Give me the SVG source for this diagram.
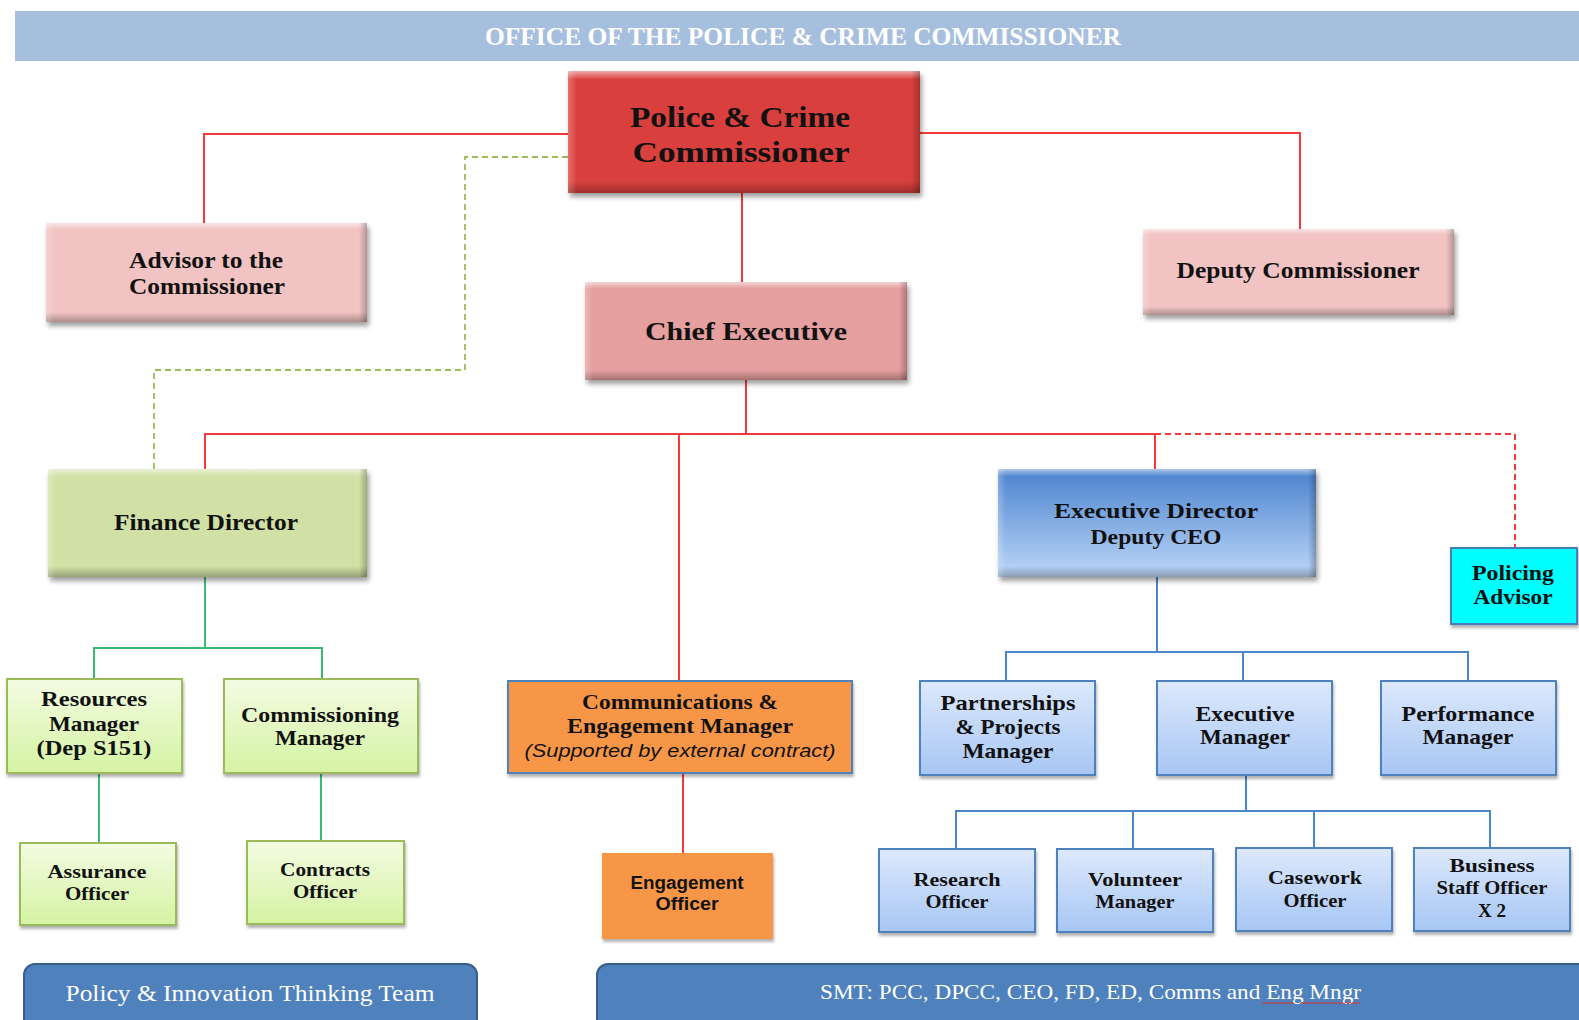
<svg xmlns="http://www.w3.org/2000/svg" width="1579" height="1020" viewBox="0 0 1579 1020">
<defs>
<filter id="sh" x="-10%" y="-10%" width="125%" height="135%">
<feDropShadow dx="2" dy="4" stdDeviation="2.5" flood-color="#000" flood-opacity="0.38"/>
</filter>
<filter id="sh2" x="-10%" y="-10%" width="125%" height="135%">
<feDropShadow dx="1" dy="3" stdDeviation="1.8" flood-color="#000" flood-opacity="0.3"/>
</filter>
<linearGradient id="bevV" x1="0" y1="0" x2="0" y2="1">
<stop offset="0" stop-color="#fff" stop-opacity="0.55"/>
<stop offset="0.07" stop-color="#fff" stop-opacity="0"/>
<stop offset="0.9" stop-color="#000" stop-opacity="0"/>
<stop offset="1" stop-color="#000" stop-opacity="0.28"/>
</linearGradient>
<linearGradient id="bevH" x1="0" y1="0" x2="1" y2="0">
<stop offset="0" stop-color="#fff" stop-opacity="0.25"/>
<stop offset="0.025" stop-color="#fff" stop-opacity="0"/>
<stop offset="0.975" stop-color="#000" stop-opacity="0"/>
<stop offset="1" stop-color="#000" stop-opacity="0.25"/>
</linearGradient>
<linearGradient id="gED" x1="0" y1="0" x2="0" y2="1">
<stop offset="0" stop-color="#4A82CE"/>
<stop offset="1" stop-color="#BDD7F8"/>
</linearGradient>
<linearGradient id="gGreen" x1="0" y1="0" x2="0" y2="1">
<stop offset="0" stop-color="#F3FCE3"/>
<stop offset="1" stop-color="#D5F3A2"/>
</linearGradient>
<linearGradient id="gBlue" x1="0" y1="0" x2="0" y2="1">
<stop offset="0" stop-color="#DDE9FC"/>
<stop offset="1" stop-color="#A7C6F4"/>
</linearGradient>
</defs>
<style>
.t{font-family:"Liberation Serif","Times New Roman",serif;font-weight:bold;fill:#111;text-anchor:middle}
.s{font-family:"Liberation Sans",Arial,sans-serif;font-weight:bold;fill:#111;text-anchor:middle}
.w{font-family:"Liberation Serif","Times New Roman",serif;fill:#fff}
.red{stroke:#F23A3A;stroke-width:2;fill:none}
.grn{stroke:#3DBA72;stroke-width:2;fill:none}
.blu{stroke:#4A86C8;stroke-width:2;fill:none}
.gd{stroke:#9BBB59;stroke-width:1.8;fill:none;stroke-dasharray:6 4}
.rd{stroke:#F23A3A;stroke-width:2;fill:none;stroke-dasharray:6 4}
.ov{fill:url(#bevV)}
.oh{fill:url(#bevH)}
.lg{fill:url(#gGreen);stroke:#9BBB59;stroke-width:2}
.lb{fill:url(#gBlue);stroke:#4F81BD;stroke-width:2}
</style>
<rect width="1579" height="1020" fill="#fff"/>

<g id="header">
<rect x="15" y="11" width="1564" height="50" fill="#A7BFDE"/>
<text class="w" x="803" y="45" font-size="25" font-weight="bold" text-anchor="middle" textLength="636" lengthAdjust="spacingAndGlyphs">OFFICE OF THE POLICE &amp; CRIME COMMISSIONER</text>
</g>

<g id="connectors">
<path class="red" d="M568 134 H204 V223"/>
<path class="red" d="M920 133 H1300 V229"/>
<path class="red" d="M742 193 V282"/>
<path class="gd" d="M568 157 H465 V370 H154 V469"/>
<path class="red" d="M746 380 V434"/>
<path class="red" d="M205 469 V434 H1155 V469"/>
<path class="red" d="M679 434 V681"/>
<path class="rd" d="M1155 434 H1515 V548"/>
<path class="grn" d="M205 577 V648 M94 679 V648 H322 V679"/>
<path class="grn" d="M99 773 V843"/>
<path class="grn" d="M321 773 V841"/>
<path class="red" d="M683 773 V853"/>
<path class="blu" d="M1157 577 V653 M1006 681 V652 H1468 V681 M1243 653 V681"/>
<path class="blu" d="M1246 775 V812 M956 849 V811 H1490 V848 M1133 811 V849 M1314 811 V848"/>
</g>

<g id="pcc">
<g filter="url(#sh)"><rect x="568" y="71" width="352" height="122" fill="#D93F3D"/></g>
<rect class="ov" x="568" y="71" width="352" height="122"/><rect class="oh" x="568" y="71" width="352" height="122"/>
<text class="t" x="740" y="127" font-size="30" textLength="220" lengthAdjust="spacingAndGlyphs">Police &amp; Crime</text>
<text class="t" x="741" y="162" font-size="30" textLength="217" lengthAdjust="spacingAndGlyphs">Commissioner</text>
</g>

<g id="advisor">
<g filter="url(#sh)"><rect x="46" y="223" width="321" height="99" fill="#F2C3C3"/></g>
<rect class="ov" x="46" y="223" width="321" height="99"/><rect class="oh" x="46" y="223" width="321" height="99"/>
<text class="t" x="206" y="268" font-size="23" textLength="154" lengthAdjust="spacingAndGlyphs">Advisor  to the</text>
<text class="t" x="207" y="294" font-size="23" textLength="156" lengthAdjust="spacingAndGlyphs">Commissioner</text>
</g>

<g id="deputy">
<g filter="url(#sh)"><rect x="1143" y="229" width="311" height="86" fill="#F2C3C3"/></g>
<rect class="ov" x="1143" y="229" width="311" height="86"/><rect class="oh" x="1143" y="229" width="311" height="86"/>
<text class="t" x="1298" y="278" font-size="23" textLength="243" lengthAdjust="spacingAndGlyphs">Deputy  Commissioner</text>
</g>

<g id="ceo">
<g filter="url(#sh)"><rect x="585" y="282" width="322" height="98" fill="#E59F9E"/></g>
<rect class="ov" x="585" y="282" width="322" height="98"/><rect class="oh" x="585" y="282" width="322" height="98"/>
<text class="t" x="746" y="340" font-size="26" textLength="202" lengthAdjust="spacingAndGlyphs">Chief Executive</text>
</g>

<g id="finance">
<g filter="url(#sh)"><rect x="48" y="469" width="319" height="108" fill="#D1E1A5"/></g>
<rect class="ov" x="48" y="469" width="319" height="108"/><rect class="oh" x="48" y="469" width="319" height="108"/>
<text class="t" x="206" y="530" font-size="23" textLength="184" lengthAdjust="spacingAndGlyphs">Finance  Director</text>
</g>

<g id="execdir">
<g filter="url(#sh)"><rect x="998" y="469" width="318" height="108" fill="url(#gED)"/></g>
<rect class="ov" x="998" y="469" width="318" height="108"/><rect class="oh" x="998" y="469" width="318" height="108"/>
<text class="t" x="1156" y="518" font-size="22" textLength="204" lengthAdjust="spacingAndGlyphs">Executive  Director</text>
<text class="t" x="1156" y="544" font-size="22" textLength="131" lengthAdjust="spacingAndGlyphs">Deputy  CEO</text>
</g>

<g id="policing">
<rect x="1451" y="548" width="126" height="76" fill="#00FFFF" stroke="#4A7EBB" stroke-width="2" filter="url(#sh2)"/>
<text class="t" x="1513" y="580" font-size="21" textLength="82" lengthAdjust="spacingAndGlyphs">Policing</text>
<text class="t" x="1513" y="604" font-size="21" textLength="79" lengthAdjust="spacingAndGlyphs">Advisor</text>
</g>

<g id="resources">
<rect class="lg" x="7" y="679" width="175" height="94" filter="url(#sh2)"/>
<text class="t" x="94" y="706" font-size="21" textLength="106" lengthAdjust="spacingAndGlyphs">Resources</text>
<text class="t" x="94" y="731" font-size="21" textLength="90" lengthAdjust="spacingAndGlyphs">Manager</text>
<text class="t" x="94" y="755" font-size="21" textLength="115" lengthAdjust="spacingAndGlyphs">(Dep S151)</text>
</g>

<g id="commissioning">
<rect class="lg" x="224" y="679" width="194" height="94" filter="url(#sh2)"/>
<text class="t" x="320" y="722" font-size="21" textLength="158" lengthAdjust="spacingAndGlyphs">Commissioning</text>
<text class="t" x="320" y="745" font-size="21" textLength="90" lengthAdjust="spacingAndGlyphs">Manager</text>
</g>

<g id="assurance">
<rect class="lg" x="20" y="843" width="156" height="82" filter="url(#sh2)"/>
<text class="t" x="97" y="878" font-size="19" textLength="99" lengthAdjust="spacingAndGlyphs">Assurance</text>
<text class="t" x="97" y="900" font-size="19" textLength="64" lengthAdjust="spacingAndGlyphs">Officer</text>
</g>

<g id="contracts">
<rect class="lg" x="247" y="841" width="157" height="83" filter="url(#sh2)"/>
<text class="t" x="325" y="876" font-size="19" textLength="90" lengthAdjust="spacingAndGlyphs">Contracts</text>
<text class="t" x="325" y="898" font-size="19" textLength="64" lengthAdjust="spacingAndGlyphs">Officer</text>
</g>

<g id="comms">
<rect x="508" y="681" width="344" height="92" fill="#F79646" stroke="#4F81BD" stroke-width="2" filter="url(#sh2)"/>
<text class="t" x="680" y="709" font-size="20" textLength="196" lengthAdjust="spacingAndGlyphs">Communications  &amp;</text>
<text class="t" x="680" y="733" font-size="20" textLength="226" lengthAdjust="spacingAndGlyphs">Engagement Manager</text>
<text x="680" y="757" font-family="Liberation Sans, Arial, sans-serif" font-style="italic" font-size="19" fill="#111" text-anchor="middle" textLength="311" lengthAdjust="spacingAndGlyphs">(Supported by external contract)</text>
</g>

<g id="engagement">
<rect x="602" y="853" width="171" height="86" fill="#F79646" filter="url(#sh2)"/>
<text class="s" x="687" y="889" font-size="18" textLength="113" lengthAdjust="spacingAndGlyphs">Engagement</text>
<text class="s" x="687" y="910" font-size="18" textLength="63" lengthAdjust="spacingAndGlyphs">Officer</text>
</g>

<g id="partnerships">
<rect class="lb" x="920" y="681" width="175" height="94" filter="url(#sh2)"/>
<text class="t" x="1008" y="710" font-size="21" textLength="135" lengthAdjust="spacingAndGlyphs">Partnerships</text>
<text class="t" x="1008" y="734" font-size="21" textLength="105" lengthAdjust="spacingAndGlyphs">&amp; Projects</text>
<text class="t" x="1008" y="758" font-size="21" textLength="91" lengthAdjust="spacingAndGlyphs">Manager</text>
</g>

<g id="execmgr">
<rect class="lb" x="1157" y="681" width="175" height="94" filter="url(#sh2)"/>
<text class="t" x="1245" y="721" font-size="21" textLength="99" lengthAdjust="spacingAndGlyphs">Executive</text>
<text class="t" x="1245" y="744" font-size="21" textLength="90" lengthAdjust="spacingAndGlyphs">Manager</text>
</g>

<g id="performance">
<rect class="lb" x="1381" y="681" width="175" height="94" filter="url(#sh2)"/>
<text class="t" x="1468" y="721" font-size="21" textLength="133" lengthAdjust="spacingAndGlyphs">Performance</text>
<text class="t" x="1468" y="744" font-size="21" textLength="91" lengthAdjust="spacingAndGlyphs">Manager</text>
</g>

<g id="research">
<rect class="lb" x="879" y="849" width="156" height="83" filter="url(#sh2)"/>
<text class="t" x="957" y="886" font-size="19" textLength="87" lengthAdjust="spacingAndGlyphs">Research</text>
<text class="t" x="957" y="908" font-size="19" textLength="63" lengthAdjust="spacingAndGlyphs">Officer</text>
</g>

<g id="volunteer">
<rect class="lb" x="1057" y="849" width="156" height="83" filter="url(#sh2)"/>
<text class="t" x="1135" y="886" font-size="19" textLength="94" lengthAdjust="spacingAndGlyphs">Volunteer</text>
<text class="t" x="1135" y="908" font-size="19" textLength="79" lengthAdjust="spacingAndGlyphs">Manager</text>
</g>

<g id="casework">
<rect class="lb" x="1236" y="848" width="156" height="83" filter="url(#sh2)"/>
<text class="t" x="1315" y="884" font-size="19" textLength="94" lengthAdjust="spacingAndGlyphs">Casework</text>
<text class="t" x="1315" y="907" font-size="19" textLength="63" lengthAdjust="spacingAndGlyphs">Officer</text>
</g>

<g id="business">
<rect class="lb" x="1414" y="848" width="156" height="83" filter="url(#sh2)"/>
<text class="t" x="1492" y="872" font-size="19" textLength="85" lengthAdjust="spacingAndGlyphs">Business</text>
<text class="t" x="1492" y="894" font-size="19" textLength="111" lengthAdjust="spacingAndGlyphs">Staff Officer</text>
<text class="t" x="1492" y="917" font-size="19" textLength="28" lengthAdjust="spacingAndGlyphs">X 2</text>
</g>

<g id="policy-team">
<rect x="24" y="964" width="453" height="70" rx="11" fill="#4F81BD" stroke="#385D8A" stroke-width="2"/>
<text class="w" x="250" y="1001" font-size="23" text-anchor="middle" textLength="369" lengthAdjust="spacingAndGlyphs">Policy &amp; Innovation Thinking Team</text>
</g>

<g id="smt">
<rect x="597" y="964" width="1000" height="70" rx="11" fill="#4F81BD" stroke="#385D8A" stroke-width="2"/>
<text class="w" x="820" y="999" font-size="22" textLength="541" lengthAdjust="spacingAndGlyphs">SMT: PCC, DPCC, CEO, FD, ED, Comms and Eng Mngr</text>
<path d="M1262 1004 l2 -2 l2 2 l2 -2 l2 2 l2 -2 l2 2 l2 -2 l2 2 l2 -2 l2 2 l2 -2 l2 2 l2 -2 l2 2 l2 -2 l2 2 M1300 1004 l2 -2 l2 2 l2 -2 l2 2 l2 -2 l2 2 l2 -2 l2 2 l2 -2 l2 2 l2 -2 l2 2 l2 -2 l2 2 l2 -2 l2 2 l2 -2 l2 2 l2 -2 l2 2 l2 -2 l2 2 l2 -2 l2 2 l2 -2 l2 2 l2 -2 l2 2 l2 -2 l2 2" fill="none" stroke="#E03030" stroke-width="1"/>
</g>
</svg>
